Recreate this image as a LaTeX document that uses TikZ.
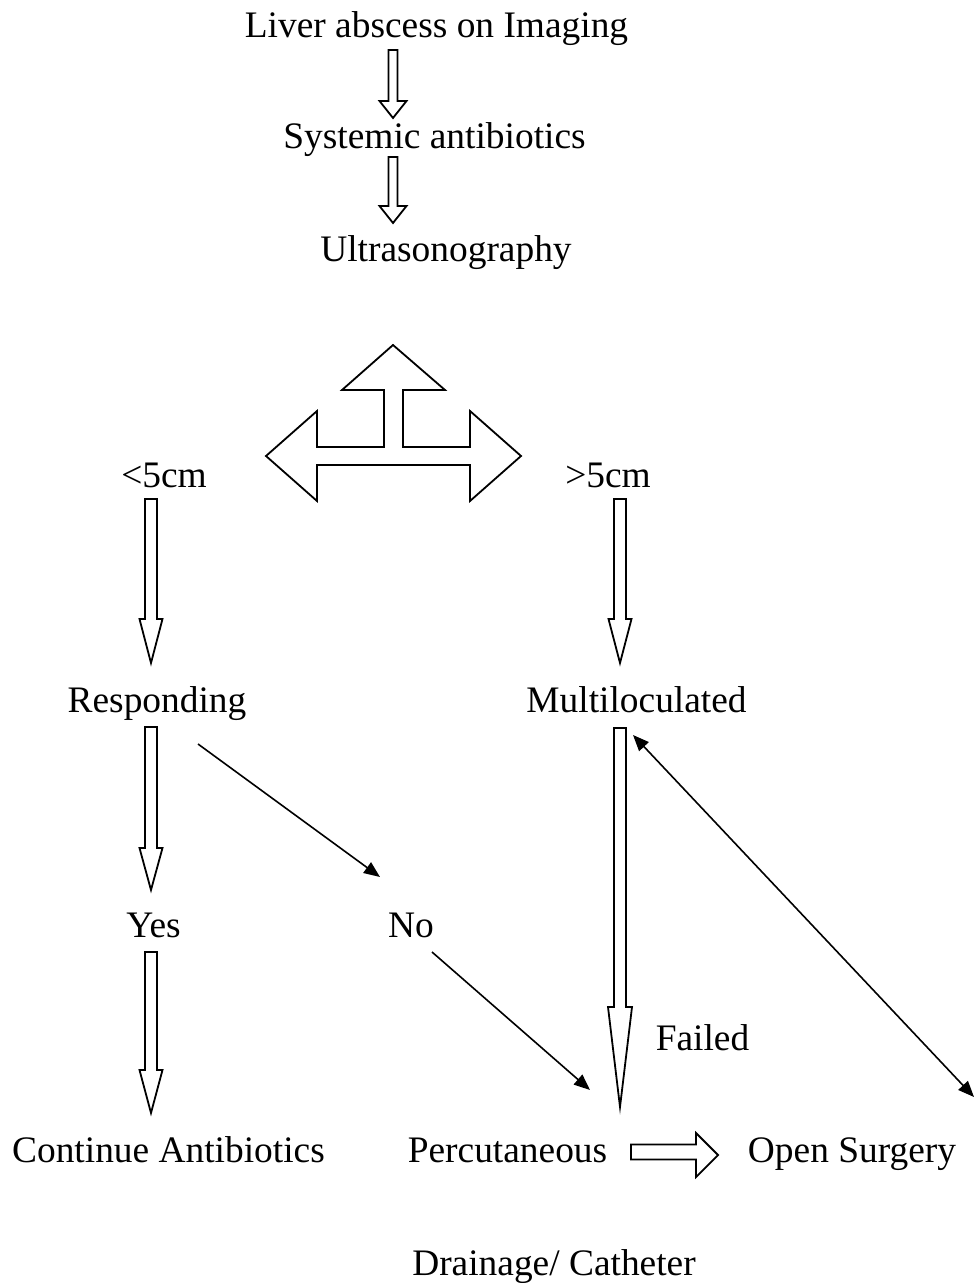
\documentclass[tikz,border=0pt]{standalone}
\usepackage{fontspec}
\setmainfont{Liberation Serif}
\usetikzlibrary{arrows.meta}

\tikzset{
  lbl/.style={anchor=base, inner sep=0pt, font=\fontsize{18.7}{22}\selectfont},
  blockarrow/.style={draw, line width=0.9pt, fill=white, line join=miter},
  conn/.style={line width=0.8pt, -{Triangle[length=8pt,width=6.5pt]}},
  biconn/.style={line width=0.8pt, {Triangle[length=8pt,width=6.5pt]}-{Triangle[length=8pt,width=6.5pt]}}
}

\begin{document}
\begin{tikzpicture}[x=0.5pt, y=-0.5pt]
    \useasboundingbox (0,0) rectangle (977,1283);

    % Text rows
    \node[lbl] (liver)  at (436.5,38)   {Liver abscess on Imaging};
    \node[lbl] (antib)  at (434.5,149)  {Systemic antibiotics};
    \node[lbl] (usg)    at (446,262)    {Ultrasonography};
    \node[lbl] (small)  at (164,487)    {<5cm};
    \node[lbl] (large)  at (608,487)    {>5cm};
    \node[lbl] (resp)   at (157,712)    {Responding};
    \node[lbl] (multi)  at (636.5,712)  {Multiloculated};
    \node[lbl] (yes)    at (153.5,937)  {Yes};
    \node[lbl] (no)     at (411,937)    {No};
    \node[lbl] (failed) at (702.5,1050) {Failed};
    \node[lbl] (cont)   at (168.5,1162) {Continue Antibiotics};
    \node[lbl] (perc)   at (507.5,1162) {Percutaneous};
    \node[lbl] (open)   at (852,1162)   {Open Surgery};
    \node[lbl] (drain)  at (554,1275)   {Drainage/ Catheter};

    % Hollow down arrows: x / top / head base / tip / shaft half width / head half width
    \foreach \x/\a/\b/\c/\w/\h in {393/50/101/118/4.5/13.5, 393/157/206/223/4.5/13.5,
        151/499/619/663/6/11.5, 620/499/619/663/6/11.5,
        151/727/848/890/6/11.5, 151/952/1070/1113/6/11.5, 620/728/1007/1107/6/12}
      \draw[blockarrow] (\x-\w,\a) -- (\x+\w,\a) -- (\x+\w,\b) -- (\x+\h,\b)
        -- (\x,\c) -- (\x-\h,\b) -- (\x-\w,\b) -- cycle;

    % Three-way arrow below Ultrasonography
    \draw[blockarrow] (393,345) -- (445,390) -- (403,390) -- (403,447) -- (470,447)
      -- (470,411) -- (521,456) -- (470,501) -- (470,465) -- (317,465) -- (317,501)
      -- (266,456) -- (317,411) -- (317,447) -- (384,447) -- (384,390) -- (342,390) -- cycle;

    % Percutaneous to Open Surgery
    \draw[blockarrow] (631,1144.5) -- (696,1144.5) -- (696,1133) -- (718,1155)
      -- (696,1177) -- (696,1159.5) -- (631,1159.5) -- cycle;

    % Thin connectors
    \coordinate (respout) at (198,744);
    \coordinate (noin)    at (380,877);
    \coordinate (noout)   at (432,952);
    \coordinate (percin)  at (590,1090);
    \coordinate (multiin) at (633,735);
    \coordinate (openin)  at (974,1097);
    \draw[conn] (respout) -- (noin);
    \draw[conn] (noout) -- (percin);
    \draw[biconn] (multiin) -- (openin);
\end{tikzpicture}
\end{document}
